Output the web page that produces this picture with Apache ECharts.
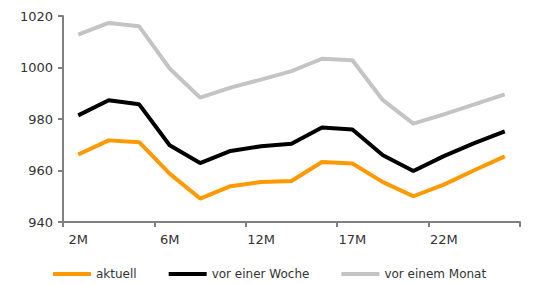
<!DOCTYPE html>
<html>
<head>
<meta charset="utf-8">
<script src="https://cdn.jsdelivr.net/npm/echarts@6/dist/echarts.min.js"></script>
<style>
  html, body { margin: 0; padding: 0; background: #fff; }
  #chart { width: 534px; height: 284px; }
</style>
</head>
<body>
<div id="chart"></div>
<script>
// Kategorien (nur jede dritte wird beschriftet)
const categories = ['2M', '3M', '5M', '6M', '8M', '10M', '12M', '14M', '16M', '17M', '19M', '21M', '22M', '24M', '26M'];

const aktuell = [966.2, 971.7, 971.0, 958.8, 949.1, 953.9, 955.5, 955.9, 963.3, 962.7, 955.5, 950.0, 954.5, 960.1, 965.5];
const vorWoche = [981.4, 987.3, 985.7, 969.8, 962.9, 967.6, 969.4, 970.4, 976.7, 975.9, 965.9, 959.8, 965.6, 970.6, 975.2];
const vorMonat = [1012.8, 1017.3, 1016.0, 999.6, 988.3, 992.2, 995.3, 998.6, 1003.4, 1002.8, 987.3, 978.2, 981.8, 985.7, 989.6];

const yTicks = { min: 940, max: 1020, interval: 20 };

const chart = echarts.init(document.getElementById('chart'), null, { renderer: 'svg' });

const axisColor = '#808080';
const textColor = '#333';
const font = 'DejaVu Sans';

const option = {
  animation: false,
  grid: { left: 63, right: 14, top: 16, bottom: 62 },
  xAxis: {
    type: 'category',
    data: categories,
    boundaryGap: true,
    axisLine: { show: true, onZero: false, lineStyle: { color: axisColor, width: 2 } },
    axisTick: { show: true, interval: 2, length: 5, lineStyle: { color: axisColor, width: 2 } },
    axisLabel: { interval: 2, margin: 11, color: textColor, fontSize: 13, fontFamily: font }
  },
  yAxis: {
    type: 'value',
    min: yTicks.min,
    max: yTicks.max,
    interval: yTicks.interval,
    splitLine: { show: false },
    axisLine: { show: true, onZero: false, lineStyle: { color: axisColor, width: 2 } },
    axisTick: { show: true, length: 5, lineStyle: { color: axisColor, width: 2 } },
    axisLabel: {
      margin: 10, color: textColor, fontSize: 13, fontFamily: font,
      formatter: (v) => String(v)
    }
  },
  legend: {
    left: 53,
    bottom: 4,
    padding: 0,
    icon: 'rect',
    itemWidth: 38,
    itemHeight: 4,
    itemGap: 32,
    textStyle: { color: textColor, fontSize: 12, fontFamily: font },
    data: ['aktuell', 'vor einer Woche', 'vor einem Monat']
  },
  series: [
    {
      name: 'vor einem Monat',
      type: 'line',
      data: vorMonat,
      symbol: 'none',
      color: '#c4c4c4',
      lineStyle: { color: '#c4c4c4', width: 4 }
    },
    {
      name: 'vor einer Woche',
      type: 'line',
      data: vorWoche,
      symbol: 'none',
      color: '#000',
      lineStyle: { color: '#000', width: 4 }
    },
    {
      name: 'aktuell',
      type: 'line',
      data: aktuell,
      symbol: 'none',
      color: '#ff9900',
      lineStyle: { color: '#ff9900', width: 4 }
    }
  ]
};

chart.setOption(option);
</script>
</body>
</html>
